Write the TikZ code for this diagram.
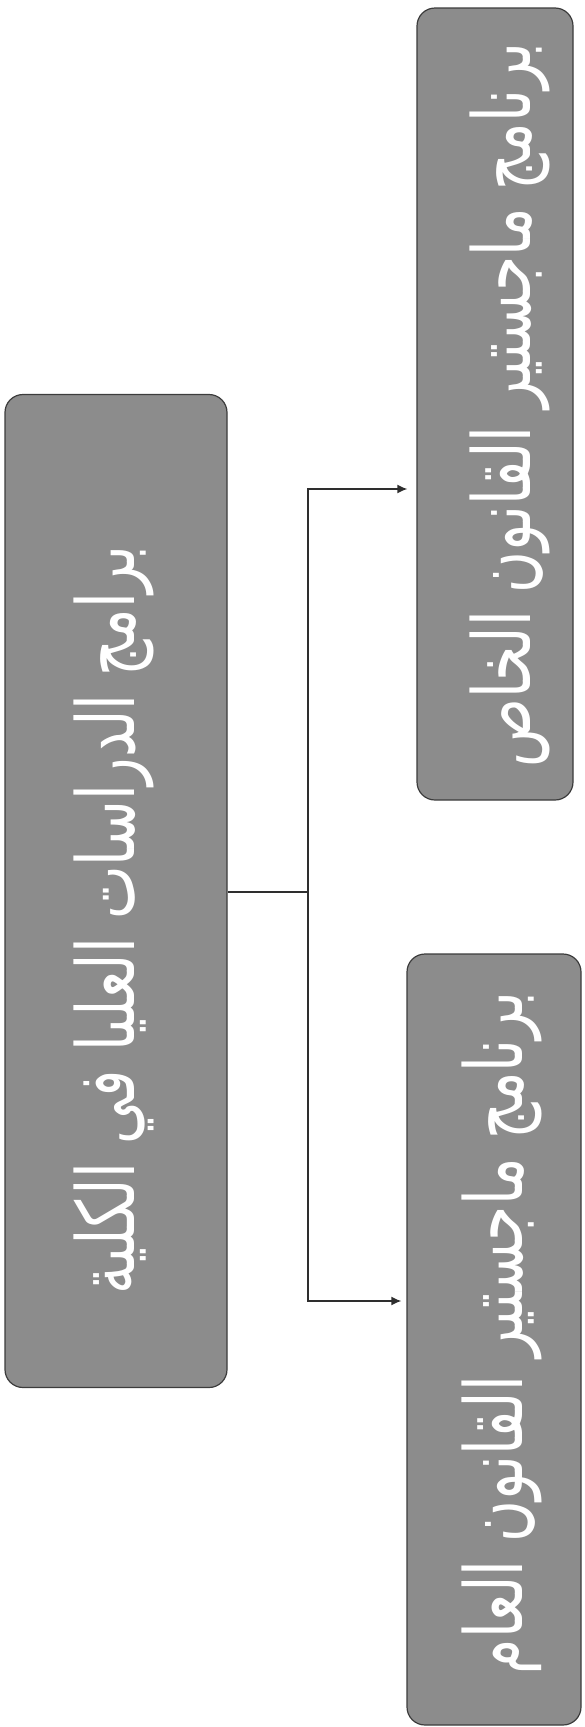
\documentclass[tikz,border=0pt]{standalone}
\usepackage{fontspec}
\newfontfamily\arabicfont[Script=Arabic]{DejaVu Sans}
\TeXXeTstate=1
\usetikzlibrary{arrows.meta}
\definecolor{boxgray}{HTML}{8C8C8C}
\definecolor{edgegray}{HTML}{3C3C3C}
\definecolor{linegray}{HTML}{2E2E2E}
\newcommand{\artext}[1]{\scalebox{1}[1.4]{\beginR #1\endR}}
\begin{document}
\begin{tikzpicture}[x=1pt,y=1pt,
  box/.style={draw=edgegray, line width=1.2pt, fill=boxgray, rounded corners=18pt, inner sep=0pt},
  boxtext/.style={rotate=90, text=white, font=\arabicfont\fontsize{57}{70}\selectfont, inner sep=0pt},
  conn/.style={draw=linegray, line width=1.6pt},
  arr/.style={conn, -{Latex[length=10pt,width=9pt]}}]
\useasboundingbox (0,0) rectangle (584,-1727);
\node[box, minimum width=222pt, minimum height=993pt] (L) at (116,-891) {};
\node[box, minimum width=156pt, minimum height=792pt] (T) at (495,-404) {};
\node[box, minimum width=174pt, minimum height=771pt] (B) at (494,-1339.5) {};
\node[boxtext] (Lt) at (114,-920) {\artext{برامج الدراسات العليا في الكلية}};
\node[boxtext] (Tt) at (510,-405) {\artext{برنامج ماجستير القانون الخاص}};
\node[boxtext] (Bt) at (502,-1333) {\artext{برنامج ماجستير القانون العام}};
\coordinate (J) at (308,-892);
\draw[conn] (L.east |- J) -- (J);
\draw[arr, shorten >=9pt] (J) |- (T.west |- 0,-489);
\draw[arr, shorten >=5pt] (J) |- (B.west |- 0,-1301);
\end{tikzpicture}
\end{document}
